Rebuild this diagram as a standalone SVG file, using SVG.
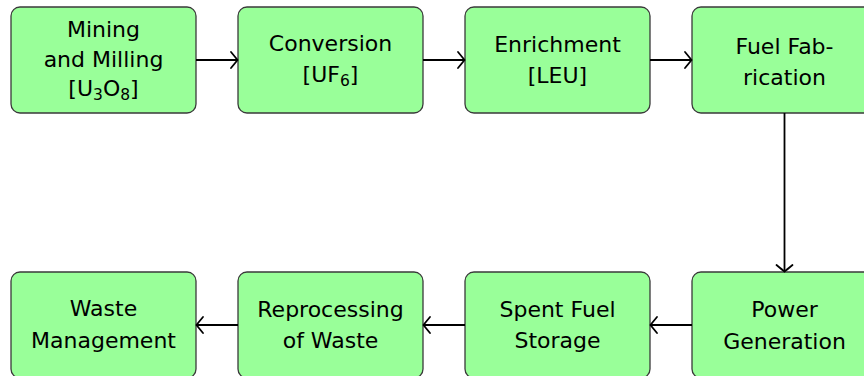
<svg xmlns="http://www.w3.org/2000/svg" width="864" height="376" viewBox="0 0 864 376">
  <style>
    .box { fill: #99ff99; stroke: #3a3a3a; stroke-width: 1.3; }
    .lbl { font-family: "DejaVu Sans", "Liberation Sans", sans-serif; font-size: 22px; fill: #000; text-anchor: middle; }
    .sub { font-size: 15.5px; }
    .edge { fill: none; stroke: #000; stroke-width: 1.8; }
  </style>
  <defs>
    <!-- curved open "to" style arrowhead -->
    <marker id="to" markerUnits="userSpaceOnUse" viewBox="-10 -10 12 20" refX="0" refY="0" markerWidth="12" markerHeight="20" orient="auto" overflow="visible">
      <path d="M -6.5,-8 Q -1.5,-2 0,0 Q -1.5,2 -6.5,8" fill="none" stroke="#000" stroke-width="1.8" stroke-linecap="round"/>
    </marker>
  </defs>

  <!-- top row: front end of the fuel cycle -->
  <g id="mining">
    <rect class="box" x="11" y="7" width="185" height="106" rx="9"/>
    <text class="lbl" x="103.5" y="37">Mining</text>
    <text class="lbl" x="103.5" y="66.5">and Milling</text>
    <text class="lbl" x="103.5" y="96">[U<tspan class="sub" dy="3.5">3</tspan><tspan dy="-3.5">O</tspan><tspan class="sub" dy="3.5">8</tspan><tspan dy="-3.5">]</tspan></text>
  </g>
  <g id="conversion">
    <rect class="box" x="238" y="7" width="185" height="106" rx="9"/>
    <text class="lbl" x="330.5" y="51">Conversion</text>
    <text class="lbl" x="330.5" y="82">[UF<tspan class="sub" dy="3.5">6</tspan><tspan dy="-3.5">]</tspan></text>
  </g>
  <g id="enrichment">
    <rect class="box" x="465" y="7" width="185" height="106" rx="9"/>
    <text class="lbl" x="557.5" y="51.5">Enrichment</text>
    <text class="lbl" x="557.5" y="82.5">[LEU]</text>
  </g>
  <g id="fabrication">
    <rect class="box" x="692" y="7" width="185" height="106" rx="9"/>
    <text class="lbl" x="784.5" y="54">Fuel Fab-</text>
    <text class="lbl" x="784.5" y="84.5">rication</text>
  </g>

  <!-- bottom row: back end of the fuel cycle -->
  <g id="power">
    <rect class="box" x="692" y="272" width="185" height="106" rx="9"/>
    <text class="lbl" x="784.5" y="316.5">Power</text>
    <text class="lbl" x="784.5" y="348.5">Generation</text>
  </g>
  <g id="storage">
    <rect class="box" x="465" y="272" width="185" height="106" rx="9"/>
    <text class="lbl" x="557.5" y="316.5">Spent Fuel</text>
    <text class="lbl" x="557.5" y="348">Storage</text>
  </g>
  <g id="reprocessing">
    <rect class="box" x="238" y="272" width="185" height="106" rx="9"/>
    <text class="lbl" x="330.5" y="316.5">Reprocessing</text>
    <text class="lbl" x="330.5" y="348">of Waste</text>
  </g>
  <g id="waste">
    <rect class="box" x="11" y="272" width="185" height="106" rx="9"/>
    <text class="lbl" x="103.5" y="315.5">Waste</text>
    <text class="lbl" x="103.5" y="348">Management</text>
  </g>

  <!-- connectors -->
  <g id="connectors">
    <line class="edge" x1="196" y1="60" x2="237.5" y2="60" marker-end="url(#to)"/>
    <line class="edge" x1="423" y1="60" x2="464.5" y2="60" marker-end="url(#to)"/>
    <line class="edge" x1="650" y1="60" x2="691.5" y2="60" marker-end="url(#to)"/>
    <line class="edge" x1="784.5" y1="113" x2="784.5" y2="271.5" marker-end="url(#to)"/>
    <line class="edge" x1="692" y1="325" x2="650.5" y2="325" marker-end="url(#to)"/>
    <line class="edge" x1="465" y1="325" x2="423.5" y2="325" marker-end="url(#to)"/>
    <line class="edge" x1="238" y1="325" x2="196.5" y2="325" marker-end="url(#to)"/>
  </g>
</svg>
